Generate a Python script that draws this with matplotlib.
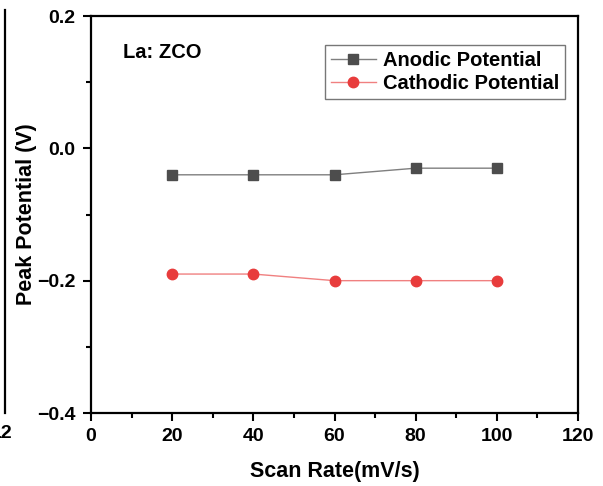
import matplotlib
matplotlib.use("Agg")
import matplotlib.pyplot as plt
from matplotlib.lines import Line2D
from matplotlib.ticker import MultipleLocator

# data
scan_rate = [20, 40, 60, 80, 100]
anodic = [-0.04, -0.04, -0.04, -0.03, -0.03]
cathodic = [-0.19, -0.19, -0.20, -0.20, -0.20]

plt.rcParams['font.family'] = ['Liberation Sans', 'DejaVu Sans']
plt.rcParams['font.weight'] = 'bold'

fig = plt.figure(figsize=(6.03, 4.86), dpi=100)
ax = fig.add_axes([91 / 603, 1 - 413 / 486, (578 - 91) / 603, (413 - 16) / 486])

ax.plot(scan_rate, anodic, color='#7f7f7f', lw=1.0, marker='s', ms=7,
        mfc='#4d4d4d', mec='#4d4d4d', label='Anodic Potential')
ax.plot(scan_rate, cathodic, color='#f08080', lw=1.0, marker='o', ms=7.5,
        mfc='#e83c3c', mec='#e83c3c', label='Cathodic Potential')

ax.set_xlim(0, 120)
ax.set_ylim(-0.4, 0.2)
ax.xaxis.set_major_locator(MultipleLocator(20))
ax.xaxis.set_minor_locator(MultipleLocator(10))
ax.yaxis.set_major_locator(MultipleLocator(0.2))
ax.yaxis.set_minor_locator(MultipleLocator(0.1))
ax.yaxis.set_major_formatter(lambda v, p: f"{v:.1f}".replace('-', '\u2212'))

ax.tick_params(which='major', direction='out', length=6, width=1.5,
               labelsize=14, pad=5)
ax.tick_params(which='minor', direction='out', length=3.5, width=1.5)
for lab in ax.get_xticklabels() + ax.get_yticklabels():
    lab.set_fontweight('bold')
for s in ax.spines.values():
    s.set_linewidth(1.6)

ax.set_xlabel('Scan Rate(mV/s)', fontsize=15.5, fontweight='bold', labelpad=11)
ax.set_ylabel('Peak Potential (V)', fontsize=15.5, fontweight='bold', labelpad=0)

ax.text(0.066, 0.907, 'La: ZCO', transform=ax.transAxes, fontsize=14.5,
        fontweight='bold', va='center')

leg = ax.legend(loc='upper right', bbox_to_anchor=(0.973, 0.928), fontsize=14.5,
                frameon=True, fancybox=False, edgecolor='#555555',
                handlelength=2.2, borderpad=0.3, labelspacing=0.22,
                handletextpad=0.35, borderaxespad=0)
leg.get_frame().set_linewidth(1.0)
for t in leg.get_texts():
    t.set_fontweight('bold')

# edge of the neighbouring panel on the left
fig.add_artist(Line2D([5 / 603, 5 / 603], [1 - 10 / 486, 1 - 413 / 486],
                      color='black', lw=1.6))
fig.text(12 / 603, 1 - 433 / 486, '12', fontsize=14, fontweight='bold',
         ha='right', va='center')

fig.savefig('out.png', dpi=100)
